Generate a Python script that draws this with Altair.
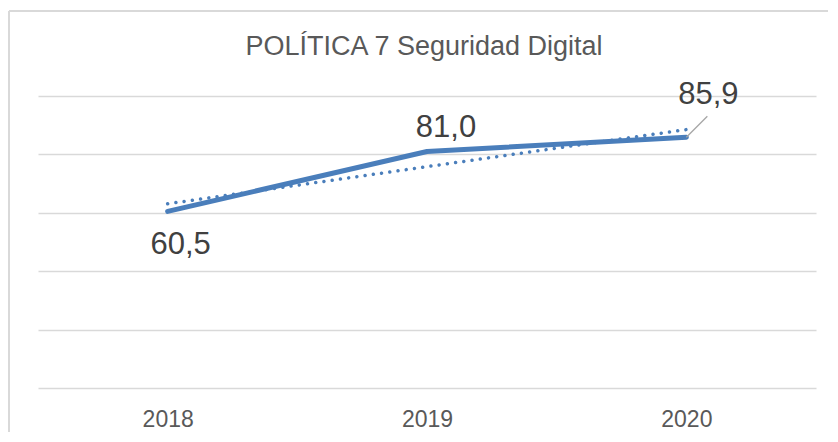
import altair as alt
import pandas as pd

years = ["2018", "2019", "2020"]
year_num = [2018, 2019, 2020]
values = [60.5, 81.0, 85.9]
labels = ["60,5", "81,0", "85,9"]
grid_values = [0, 20, 40, 60, 80, 100]
title_text = ["POLÍTICA 7 Seguridad Digital"]

df = pd.DataFrame({"year": years, "yn": year_num, "value": values, "label": labels})

FONT = "Liberation Sans"
BLUE = "#4a7ebb"
TXT = "#404040"
BORDER = "#d9d9d9"

x_enc = alt.X("year:O", scale=alt.Scale(type="point", padding=0.5, domain=years),
              axis=alt.Axis(title=None, labelAngle=0, domain=False, ticks=False,
                            labelFont=FONT, labelFontSize=23, labelColor="#595959",
                            labelPadding=20, grid=False))
y_enc = alt.Y("value:Q", scale=alt.Scale(domain=[0, 100], nice=False, zero=True),
              axis=alt.Axis(title=None, labels=False, ticks=False, domain=False,
                            values=grid_values, grid=True, gridColor="#d9d9d9",
                            gridWidth=1.5))

base = alt.Chart(df)

frame_top = base.mark_rule(stroke=BORDER, strokeWidth=1.5).encode(
    x=alt.value(-29), x2=alt.value(900), y=alt.value(-85)
)
frame_left = base.mark_rule(stroke=BORDER, strokeWidth=1.5).encode(
    x=alt.value(-29), y=alt.value(-85), y2=alt.value(500)
)

title = alt.Chart(pd.DataFrame({"t": title_text})).mark_text(
    font=FONT, fontSize=27, color="#595959", align="center", baseline="alphabetic"
).encode(x=alt.value(386), y=alt.value(-41), text="t:N")

line = base.mark_line(color=BLUE, strokeWidth=5, strokeCap="round", strokeJoin="round").encode(
    x=x_enc, y=y_enc
)

trend = base.transform_regression("yn", "value").transform_calculate(
    year="toString(datum.yn)"
).mark_line(color=BLUE, strokeWidth=3.5, strokeDash=[0.01, 8.3], strokeCap="round").encode(
    x=alt.X("year:O"), y=alt.Y("value:Q")
)

leader = base.transform_filter(alt.datum.year == "2020").mark_point(
    shape="M0,0L1,-1", size=1764, filled=False, stroke="#a6a6a6", strokeWidth=1.3, opacity=1
).encode(x=alt.X("year:O"), y=alt.Y("value:Q"))

def lab(yr, dx, dy):
    return base.transform_filter(alt.datum.year == yr).mark_text(
        font=FONT, fontSize=31, color=TXT, align="center", baseline="alphabetic", dx=dx, dy=dy
    ).encode(x=alt.X("year:O"), y=alt.Y("value:Q"), text="label:N")

chart = alt.layer(
    frame_top, frame_left, title, line, trend, leader,
    lab("2018", 13, 43), lab("2019", 19, -14), lab("2020", 22, -33)
).properties(
    width=778, height=292,
    autosize=alt.AutoSizeParams(type="none"),
    padding={"left": 30, "top": 88, "right": 12, "bottom": 44},
).configure_view(stroke=None)

chart.save("out.html", embed_options={"renderer": "svg", "actions": False})
